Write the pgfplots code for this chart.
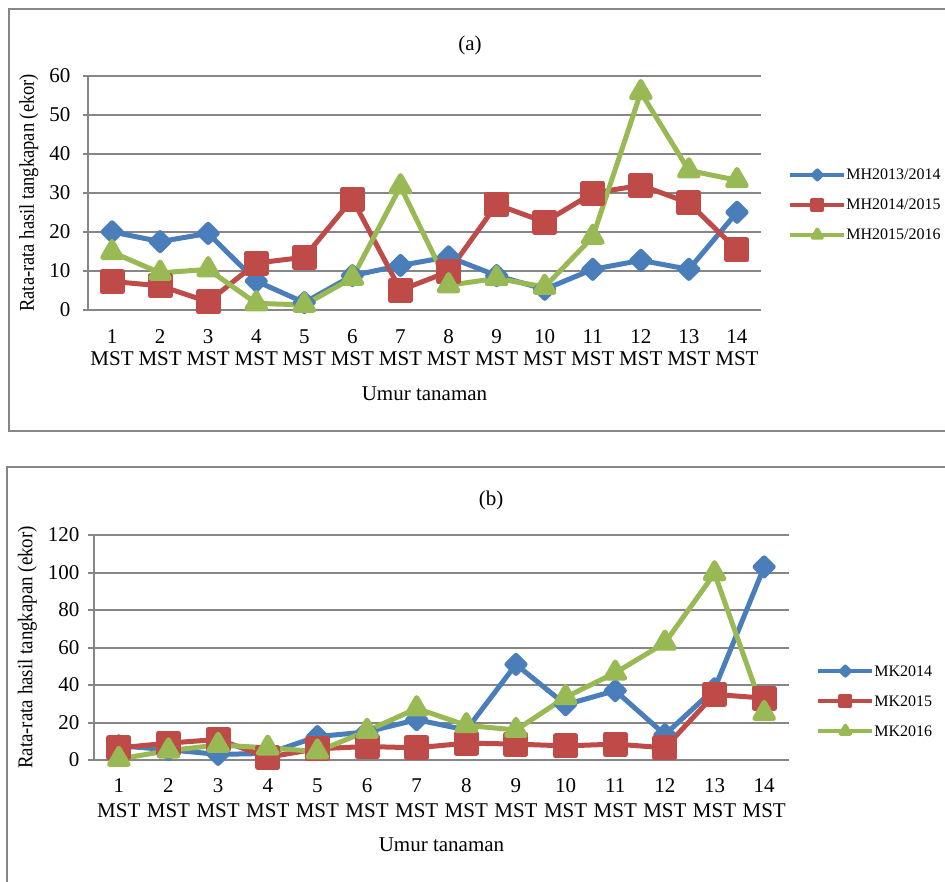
\documentclass[border=0pt]{standalone}
\usepackage{fontspec}
\setmainfont{Liberation Serif}
\usepackage{graphicx}
\usepackage{pgfplots}
\usepackage{pgfplotstable}
\pgfplotsset{compat=1.18}

\definecolor{xlblue}{RGB}{74,126,187}
\definecolor{xlred}{RGB}{190,75,72}
\definecolor{xlgreen}{RGB}{152,185,84}
\definecolor{xlgray}{RGB}{134,134,134}

% Rainy season (MH) catches
\pgfplotstableread{
x  mhA  mhB  mhC
1  20.0 7.3  14.8
2  17.5 6.2  9.5
3  19.6 2.1  10.4
4  7.4  12.0 1.7
5  1.9  13.5 1.3
6  8.8  28.4 8.2
7  11.4 5.1  31.6
8  13.6 9.8  6.3
9  8.8  27.0 8.1
10 5.3  22.5 5.9
11 10.4 29.9 18.7
12 12.7 31.9 55.7
13 10.4 27.4 35.7
14 25.0 15.4 33.2
}\tabMH

% Dry season (MK) catches
\pgfplotstableread{
x  mkA   mkB  mkC
1  7.6   6.5  0.5
2  5.5   9.0  5.0
3  3.0   11.0 8.0
4  3.5   1.5  6.5
5  12.5  6.0  4.5
6  15.0  7.2  15.5
7  21.5  6.5  27.5
8  16.0  9.0  18.5
9  51.0  8.5  16.0
10 29.5  7.5  33.5
11 37.0  8.5  46.5
12 13.5  6.5  62.5
13 38.0  35.0 99.5
14 103.0 33.0 25.0
}\tabMK

\newcommand{\ylab}[1]{\scalebox{#1}[1]{Rata-rata hasil tangkapan (ekor)}}

\pgfplotsset{
  xlbase/.style={
    scale only axis,
    clip=false,
    xmin=0.5, xmax=14.5,
    ymin=0,
    axis lines*=left,
    axis line style={xlgray, line width=1pt},
    xtick={1,...,14},
    xticklabels={1\\MST,2\\MST,3\\MST,4\\MST,5\\MST,6\\MST,7\\MST,8\\MST,9\\MST,10\\MST,11\\MST,12\\MST,13\\MST,14\\MST},
    xtick style={draw=none},
    ytick style={xlgray, line width=1pt},
    tick align=outside,
    major tick length=2.75pt,
    ymajorgrids,
    grid style={xlgray, line width=1pt},
    /pgf/number format/assume math mode=true,
    tick label style={font=\fontsize{10.5}{11.5}\selectfont},
    label style={font=\fontsize{10.5}{12}\selectfont},
    ylabel style={font=\fontsize{10.5}{12}\selectfont, anchor=center},
    legend cell align=left,
    legend image code/.code={
      \draw[##1, line width=2pt, mark repeat=2, mark phase=2,
            every mark/.append style={scale=0.5}]
        plot coordinates {(0pt,0pt) (13.5pt,0pt) (27pt,0pt)};
    },
  },
  serA/.style={xlblue, line width=2.5pt, line join=round, mark=square*,
    mark size=3.2pt, mark options={rotate=45, solid, fill=xlblue}},
  serB/.style={xlred, line width=2.5pt, line join=round, mark=square*,
    mark size=5pt, mark options={solid, fill=xlred}},
  serC/.style={xlgreen, line width=2.5pt, line join=round, mark=triangle*,
    mark size=5.4pt, mark options={solid, fill=xlgreen}},
}

\begin{document}
\begin{tikzpicture}
\useasboundingbox (0pt,0pt) rectangle (472.5pt,-440.5pt);

% panel frames
\draw[xlgray, line width=1pt] (4.5pt,-4.5pt) rectangle (480pt,-215.5pt);
\draw[xlgray, line width=1pt] (3.5pt,-233.5pt) rectangle (480pt,-450pt);

% panel titles
\node[font=\fontsize{10.5}{12}\selectfont] at (235pt,-22.5pt) {(a)};
\node[font=\fontsize{10.5}{12}\selectfont] at (245.5pt,-250pt) {(b)};

% (a) rainy season
\begin{axis}[xlbase,
  at={(44pt,-155pt)}, anchor=south west,
  width=336.5pt, height=117.25pt,
  ymax=60, ytick={0,10,...,60},
  xticklabel style={align=center, yshift=-3.5pt,
    font=\fontsize{10.5}{11}\selectfont},
  yticklabel style={xshift=-2.5pt},
  xlabel={Umur tanaman},
  ylabel={\ylab{0.88}},
  xlabel style={at={(axis description cs:0.5,-0.355)}, anchor=center},
  ylabel style={at={(axis description cs:-0.088,0.5)}},
  legend style={at={(1.040,0.448)}, anchor=west, draw=none, fill=none,
    inner sep=0pt, font=\fontsize{8}{9}\selectfont, row sep=8pt,
    nodes={inner sep=0pt, text height=6pt, text depth=1pt}},
]
\addplot[serA] table[x=x, y=mhA] {\tabMH};
\addlegendentry{MH2013/2014}
\addplot[serB] table[x=x, y=mhB] {\tabMH};
\addlegendentry{MH2014/2015}
\addplot[serC] table[x=x, y=mhC] {\tabMH};
\addlegendentry{MH2015/2016}
\end{axis}

% (b) dry season
\begin{axis}[xlbase,
  at={(47pt,-380pt)}, anchor=south west,
  width=347.5pt, height=112.5pt,
  ymax=120, ytick={0,20,...,120},
  xticklabel style={align=center, yshift=-3pt,
    font=\fontsize{10.5}{12.5}\selectfont},
  yticklabel style={xshift=-1pt},
  xlabel={Umur tanaman},
  ylabel={\ylab{0.9}},
  xlabel style={at={(axis description cs:0.5,-0.375)}, anchor=center},
  ylabel style={at={(axis description cs:-0.096,0.5)}},
  legend style={at={(1.0388,0.262)}, anchor=west, draw=none, fill=none,
    inner sep=0pt, font=\fontsize{8}{9}\selectfont, row sep=8pt,
    nodes={inner sep=0pt, text height=6pt, text depth=1pt}},
]
\addplot[serA] table[x=x, y=mkA] {\tabMK};
\addlegendentry{MK2014}
\addplot[serB] table[x=x, y=mkB] {\tabMK};
\addlegendentry{MK2015}
\addplot[serC] table[x=x, y=mkC] {\tabMK};
\addlegendentry{MK2016}
\end{axis}
\end{tikzpicture}
\end{document}
